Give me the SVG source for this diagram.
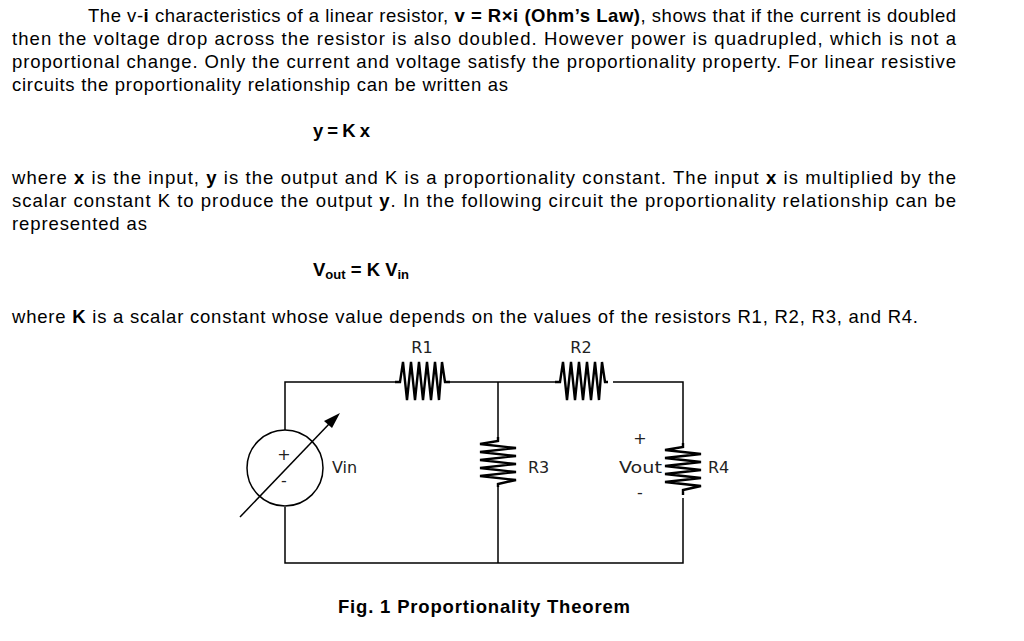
<svg xmlns="http://www.w3.org/2000/svg" width="1024" height="641" viewBox="0 0 1024 641">
<style>
.t{font-family:"Liberation Sans",Arial,sans-serif;font-size:18.5px;fill:#000}
.b{font-weight:bold}
.c{font-family:"DejaVu Sans","Open Sans",sans-serif;font-size:16px;fill:#222}
.w{fill:none;stroke:#000;stroke-width:1.5}
.z{fill:none;stroke:#000;stroke-width:2.4}
</style>
<rect width="1024" height="641" fill="#fff"/>
<g id="text">
<text class="t" x="88" y="22" textLength="868" lengthAdjust="spacing">The v-<tspan class="b">i</tspan> characteristics of a linear resistor, <tspan class="b">v = R×i (Ohm’s Law)</tspan>, shows that if the current is doubled</text>
<text class="t" x="12" y="45" textLength="944" lengthAdjust="spacing">then the voltage drop across the resistor is also doubled. However power is quadrupled, which is not a</text>
<text class="t" x="12" y="68" textLength="944" lengthAdjust="spacing">proportional change. Only the current and voltage satisfy the proportionality property. For linear resistive</text>
<text class="t" x="12" y="91" textLength="496" lengthAdjust="spacing">circuits the proportionality relationship can be written as</text>
<text class="t b" x="313" y="137" textLength="57" lengthAdjust="spacing">y = K x</text>
<text class="t" x="12" y="184" textLength="944" lengthAdjust="spacing">where <tspan class="b">x</tspan> is the input, <tspan class="b">y</tspan> is the output and K is a proportionality constant. The input <tspan class="b">x</tspan> is multiplied by the</text>
<text class="t" x="12" y="207" textLength="944" lengthAdjust="spacing">scalar constant K to produce the output <tspan class="b">y</tspan>. In the following circuit the proportionality relationship can be</text>
<text class="t" x="12" y="230" textLength="135" lengthAdjust="spacing">represented as</text>
<text class="t b" x="313" y="276">V<tspan font-size="13" dy="3">out</tspan><tspan dy="-3"> = K V</tspan><tspan font-size="13" dy="3">in</tspan></text>
<text class="t" x="12" y="323" textLength="906" lengthAdjust="spacing">where <tspan class="b">K</tspan> is a scalar constant whose value depends on the values of the resistors R1, R2, R3, and R4.</text>
<text class="t b" x="338" y="613" textLength="292" lengthAdjust="spacing">Fig. 1 Proportionality Theorem</text>
</g>
<g id="wires">
<path class="w" d="M285,430 V382 H395 M450,382 H555 M613,382 H683 V443 M683,498 V563 H285 V507 M498,382 V437 M498,487 V563"/>
</g>
<g id="R1"><path class="z" d="M395,382 L400,382 L403,362 L407,400 L411,362 L415,400 L419,362 L423,400 L427,362 L431,400 L435,362 L439,400 L442,362 L445,382 L450,382"/><text class="c" x="422" y="353" text-anchor="middle">R1</text></g>
<g id="R2"><path class="z" d="M555,382 L560,382 L563,362 L567,400 L571,362 L575,400 L579,362 L583,400 L587,362 L591,400 L595,362 L599,400 L602,362 L605,382 L608,382"/><text class="c" x="581" y="353" text-anchor="middle">R2</text></g>
<g id="R3"><path class="z" d="M498,437 L498,441 L480,444 L516,448 L480,452 L516,456 L480,460 L516,464 L480,468 L516,472 L480,476 L516,480 L498,484 L498,487"/><text class="c" x="528" y="473">R3</text></g>
<g id="R4"><path class="z" d="M683,443 L683,447 L665,450 L701,454 L665,458 L701,462 L665,466 L701,470 L665,474 L701,478 L665,482 L701,486 L683,490 L683,495"/><text class="c" x="708" y="473">R4</text><text class="c" x="640" y="444" text-anchor="middle" font-size="13">+</text><text class="c" x="640" y="498" text-anchor="middle" font-size="13">-</text><text class="c" x="619" y="473" textLength="43" lengthAdjust="spacingAndGlyphs">Vout</text></g>
<g id="Vin"><circle class="w" cx="285" cy="468" r="38"/><line class="w" x1="240" y1="517" x2="330" y2="423"/><path d="M340,413 L324,421 L332,428 Z" fill="#000"/><text class="c" x="284" y="460" text-anchor="middle" fill="#2a6fc9">+</text><text class="c" x="284" y="486" text-anchor="middle">-</text><text class="c" x="332" y="473">Vin</text></g>
</svg>
